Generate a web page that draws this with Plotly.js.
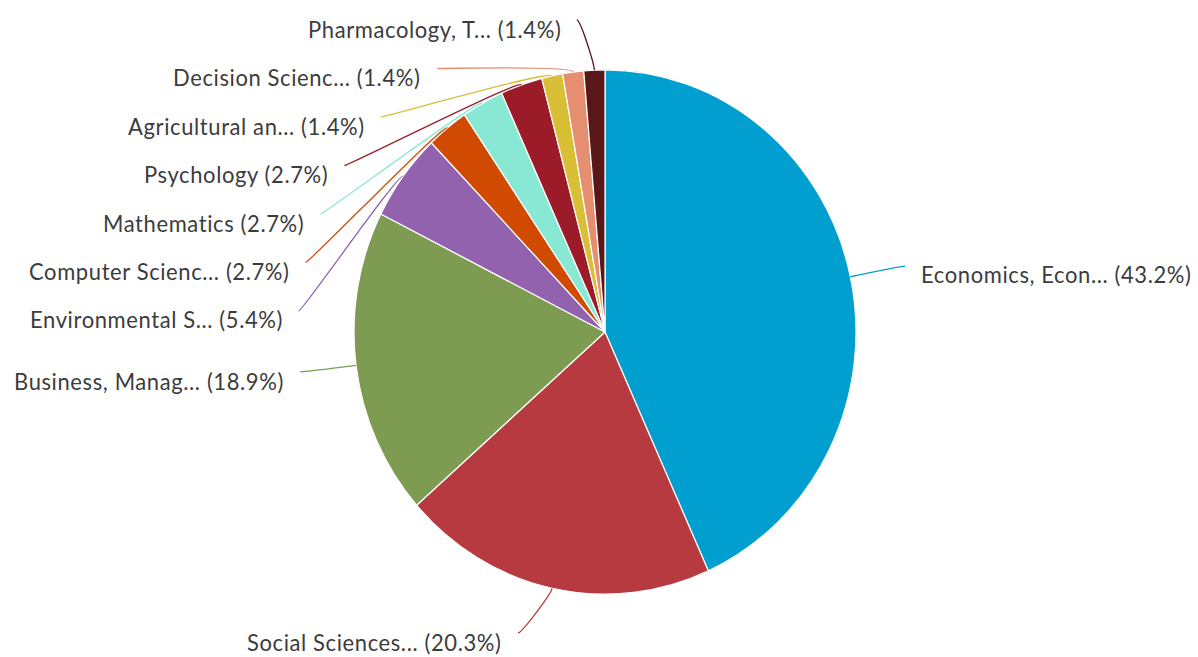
<!DOCTYPE html>
<html><head><meta charset="utf-8">
<script src="https://cdn.plot.ly/plotly-3.0.1.min.js"></script>
<style>
html,body{margin:0;padding:0;background:#fff;overflow:hidden;width:1198px;height:657px}
#chart{width:1198px;height:640px;transform:scaleY(1.04452);transform-origin:0 0}
text.annotation-text{letter-spacing:0.6px}
</style>
</head><body><div id="chart"></div>
<script>
// ---- data ----
const categories = ["Economics, Econ...", "Social Sciences...", "Business, Manag...", "Environmental S...",
  "Computer Scienc...", "Mathematics", "Psychology", "Agricultural an...", "Decision Scienc...", "Pharmacology, T..."];
const counts = [32, 15, 14, 4, 2, 2, 2, 1, 1, 1];
const sliceColors = ["#009fcf", "#b73a40", "#7d9c52", "#9262ae", "#d14a02", "#89e8d4", "#9b1c28", "#d9bf35", "#e58f70", "#5a171a"];

// ---- geometry (final page pixels) ----
const W = 1198, H = 657, S = 1.04452, HI = 640;   // HI: internal plot height before vertical scale
const CX = 605, CY = 332, RX = 251, RY = RX * S;
const LA = 303, LB = 313;          // label anchor ellipse
const GAP = 48.5, TOP = 20, BOTTOM = H - 24;
const TXT_OFF = 18, TXT_DY = 8.5;

const total = counts.reduce((a, b) => a + b, 0);
const pct = counts.map(v => (v / total * 100).toFixed(1));
const px = x => x / W, py = y => 1 - (y / S) / HI;

let cum = 0;
const items = counts.map((v, i) => {
  const mid = (cum + v / 2) / total * 2 * Math.PI; cum += v;
  const s = Math.sin(mid), c = Math.cos(mid);
  return { i, s, c, left: s < 0, nat: CY - LB * c,
           ex: CX + RX * s, ey: CY - RY * c,
           kx: CX + (RX + 6) * s, ky: CY - (RY + 6) * c };
});

function distribute(list) {
  list.sort((a, b) => a.nat - b.nat);
  let prev = -Infinity;
  list.forEach(it => { it.y = Math.max(it.nat, prev + GAP, TOP); prev = it.y; });
  let next = Infinity;
  for (let k = list.length - 1; k >= 0; k--) {
    const it = list[k]; it.y = Math.min(it.y, next - GAP, BOTTOM); next = it.y;
  }
}
distribute(items.filter(it => it.left));
distribute(items.filter(it => !it.left));

const annotations = [], shapes = [];
items.forEach(it => {
  const u = Math.max(-1, Math.min(1, (it.y - CY) / LB));
  const dx = LA * Math.sqrt(1 - u * u);
  const ax = it.left ? CX - dx : CX + dx;
  const sign = it.left ? -1 : 1;
  annotations.push({
    xref: 'paper', yref: 'paper', showarrow: false,
    x: px(ax + sign * TXT_OFF), y: py(it.y + TXT_DY),
    xanchor: it.left ? 'right' : 'left', yanchor: 'middle',
    text: categories[it.i] + ' (' + pct[it.i] + '%)',
    font: { family: 'Lato, "Open Sans", sans-serif', size: 22, color: '#3c3c3c' }
  });
  const path = `M${px(ax + sign * 4)},${py(it.y)} C${px(ax)},${py(it.y)} ${px(it.kx)},${py(it.ky)} ${px(it.ex)},${py(it.ey)}`;
  shapes.push({ type: 'path', xref: 'paper', yref: 'paper', path,
    line: { color: sliceColors[it.i], width: 1.3 } });
});

const cyP = py(CY), halfH = RX / HI;
const trace = {
  type: 'pie', labels: categories, values: counts, sort: false,
  direction: 'clockwise', rotation: 0, textinfo: 'none', hoverinfo: 'label+percent',
  marker: { colors: sliceColors, line: { color: '#ffffff', width: 1.2 } },
  domain: { x: [(CX - RX) / W, (CX + RX) / W], y: [cyP - halfH, cyP + halfH] },
  showlegend: false
};

Plotly.newPlot('chart', [trace], {
  width: W, height: HI, margin: { l: 0, r: 0, t: 0, b: 0 },
  paper_bgcolor: '#ffffff', plot_bgcolor: '#ffffff',
  annotations, shapes, showlegend: false
}, { displayModeBar: false, staticPlot: true });
</script>
</body></html>
